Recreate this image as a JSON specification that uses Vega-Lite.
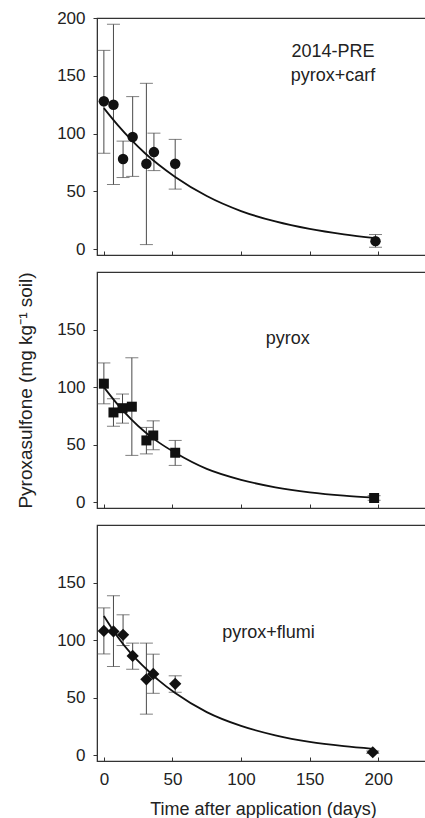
{
  "$schema": "https://vega.github.io/schema/vega-lite/v6.json",
  "padding": {"left": 16, "top": 8, "right": 0, "bottom": 0},
  "spacing": 13,
  "config": {
    "font": "Liberation Sans",
    "view": {"stroke": "#333", "strokeWidth": 1.2},
    "axis": {"grid": false, "domainColor": "#333", "tickColor": "#333", "labelColor": "#222", "titleColor": "#222", "labelFontSize": 17, "titleFontSize": 18, "titleFontWeight": "normal", "labelFont": "Liberation Sans", "titleFont": "Liberation Sans"},
    "text": {"font": "Liberation Sans"}
  },
  "datasets": {
    "carf_pts": [
      {"day": 0, "mean": 128, "lo": 83, "hi": 172},
      {"day": 7, "mean": 125, "lo": 56, "hi": 194.5},
      {"day": 14, "mean": 78, "lo": 62, "hi": 93.5},
      {"day": 21, "mean": 97, "lo": 63, "hi": 132},
      {"day": 31, "mean": 74, "lo": 4, "hi": 143.5},
      {"day": 36.5, "mean": 84, "lo": 68, "hi": 100.4},
      {"day": 52, "mean": 74, "lo": 52, "hi": 95},
      {"day": 198, "mean": 7, "lo": 1.7, "hi": 12.7}
    ],
    "carf_fit": [
      {"day": 0, "fit": 122}, {"day": 10, "fit": 107.5}, {"day": 20, "fit": 94.5}, {"day": 30, "fit": 83},
      {"day": 40, "fit": 73}, {"day": 52, "fit": 62.5}, {"day": 75, "fit": 46}, {"day": 100, "fit": 33},
      {"day": 125, "fit": 24}, {"day": 150, "fit": 17.5}, {"day": 175, "fit": 12.8}, {"day": 198, "fit": 9.5}
    ],
    "pyrox_pts": [
      {"day": 0, "mean": 103, "lo": 85.5, "hi": 121},
      {"day": 7, "mean": 78, "lo": 66, "hi": 90},
      {"day": 13.6, "mean": 81.7, "lo": 68.7, "hi": 94},
      {"day": 20.4, "mean": 83, "lo": 40.7, "hi": 125.5},
      {"day": 31, "mean": 53.7, "lo": 42, "hi": 65},
      {"day": 36, "mean": 58, "lo": 45.6, "hi": 70.7},
      {"day": 52, "mean": 43, "lo": 32, "hi": 53.7},
      {"day": 197, "mean": 3.7, "lo": 1.7, "hi": 5.7}
    ],
    "pyrox_fit": [
      {"day": 0, "fit": 100}, {"day": 10, "fit": 85}, {"day": 20, "fit": 72}, {"day": 30, "fit": 61},
      {"day": 40, "fit": 52}, {"day": 52, "fit": 43}, {"day": 75, "fit": 29}, {"day": 100, "fit": 19.5},
      {"day": 125, "fit": 13}, {"day": 150, "fit": 8.6}, {"day": 175, "fit": 5.7}, {"day": 197, "fit": 4}
    ],
    "flumi_pts": [
      {"day": 0, "mean": 108, "lo": 88, "hi": 128},
      {"day": 7, "mean": 107.5, "lo": 77, "hi": 138.6},
      {"day": 14, "mean": 104.6, "lo": 95.3, "hi": 122},
      {"day": 21, "mean": 86.3, "lo": 74.7, "hi": 97.4},
      {"day": 31, "mean": 66, "lo": 35.7, "hi": 97.4},
      {"day": 36, "mean": 70.6, "lo": 53.8, "hi": 87.8},
      {"day": 52, "mean": 62, "lo": 54.7, "hi": 69},
      {"day": 196, "mean": 2.6, "lo": 1.5, "hi": 3.7}
    ],
    "flumi_fit": [
      {"day": 0, "fit": 121}, {"day": 10, "fit": 103}, {"day": 20, "fit": 88}, {"day": 30, "fit": 76},
      {"day": 40, "fit": 65}, {"day": 52, "fit": 54}, {"day": 75, "fit": 37.5}, {"day": 100, "fit": 25.5},
      {"day": 125, "fit": 17.3}, {"day": 150, "fit": 11.6}, {"day": 175, "fit": 7.9}, {"day": 196, "fit": 5.6}
    ]
  },
  "vconcat": [
    {
      "width": 332, "height": 237,
      "layer": [
        {"data": {"name": "carf_pts"}, "mark": {"type": "rule", "color": "#4a4a4a", "strokeWidth": 1},
         "encoding": {"x": {"field": "day", "type": "quantitative", "scale": {"domain": [-5, 237], "nice": false, "zero": false},
           "axis": {"values": [0, 50, 100, 150, 200], "labels": false, "tickSize": -4, "title": null}},
           "y": {"field": "lo", "type": "quantitative", "scale": {"domain": [-5, 200], "nice": false, "zero": false},
           "axis": {"values": [0, 50, 100, 150, 200], "tickSize": 4, "labelPadding": 8, "title": null}},
           "y2": {"field": "hi"}}},
        {"data": {"name": "carf_pts"}, "mark": {"type": "tick", "orient": "horizontal", "size": 13, "thickness": 1, "color": "#4a4a4a"},
         "encoding": {"x": {"field": "day", "type": "quantitative"}, "y": {"field": "lo", "type": "quantitative"}}},
        {"data": {"name": "carf_pts"}, "mark": {"type": "tick", "orient": "horizontal", "size": 13, "thickness": 1, "color": "#4a4a4a"},
         "encoding": {"x": {"field": "day", "type": "quantitative"}, "y": {"field": "hi", "type": "quantitative"}}},
        {"data": {"name": "carf_fit"}, "mark": {"type": "line", "color": "#111", "strokeWidth": 1.8, "interpolate": "monotone"},
         "encoding": {"x": {"field": "day", "type": "quantitative"}, "y": {"field": "fit", "type": "quantitative"}}},
        {"data": {"name": "carf_pts"}, "mark": {"type": "point", "shape": "circle", "filled": true, "color": "#111", "opacity": 1, "size": 110},
         "encoding": {"x": {"field": "day", "type": "quantitative"}, "y": {"field": "mean", "type": "quantitative"}}},
        {"data": {"values": [{"label": "2014-PRE"}]}, "mark": {"type": "text", "fontSize": 18, "color": "#222", "baseline": "alphabetic", "align": "center"},
         "encoding": {"x": {"datum": 167}, "y": {"datum": 166}, "text": {"field": "label"}}},
        {"data": {"values": [{"label": "pyrox+carf"}]}, "mark": {"type": "text", "fontSize": 18, "color": "#222", "baseline": "alphabetic", "align": "center"},
         "encoding": {"x": {"datum": 167}, "y": {"datum": 145.5}, "text": {"field": "label"}}}
      ]
    },
    {
      "width": 332, "height": 236,
      "layer": [
        {"data": {"name": "pyrox_pts"}, "mark": {"type": "rule", "color": "#4a4a4a", "strokeWidth": 1},
         "encoding": {"x": {"field": "day", "type": "quantitative", "scale": {"domain": [-5, 237], "nice": false, "zero": false},
           "axis": {"values": [0, 50, 100, 150, 200], "labels": false, "tickSize": -4, "title": null}},
           "y": {"field": "lo", "type": "quantitative", "scale": {"domain": [-5, 200], "nice": false, "zero": false},
           "axis": {"values": [0, 50, 100, 150], "tickSize": 4, "labelPadding": 8, "title": "Pyroxasulfone (mg kg⁻¹ soil)", "titleFontSize": 19, "titlePadding": 21}},
           "y2": {"field": "hi"}}},
        {"data": {"name": "pyrox_pts"}, "mark": {"type": "tick", "orient": "horizontal", "size": 13, "thickness": 1, "color": "#4a4a4a"},
         "encoding": {"x": {"field": "day", "type": "quantitative"}, "y": {"field": "lo", "type": "quantitative"}}},
        {"data": {"name": "pyrox_pts"}, "mark": {"type": "tick", "orient": "horizontal", "size": 13, "thickness": 1, "color": "#4a4a4a"},
         "encoding": {"x": {"field": "day", "type": "quantitative"}, "y": {"field": "hi", "type": "quantitative"}}},
        {"data": {"name": "pyrox_fit"}, "mark": {"type": "line", "color": "#111", "strokeWidth": 1.8, "interpolate": "monotone"},
         "encoding": {"x": {"field": "day", "type": "quantitative"}, "y": {"field": "fit", "type": "quantitative"}}},
        {"data": {"name": "pyrox_pts"}, "mark": {"type": "point", "shape": "square", "filled": true, "color": "#111", "opacity": 1, "size": 100},
         "encoding": {"x": {"field": "day", "type": "quantitative"}, "y": {"field": "mean", "type": "quantitative"}}},
        {"data": {"values": [{"label": "pyrox"}]}, "mark": {"type": "text", "fontSize": 18, "color": "#222", "baseline": "alphabetic", "align": "center"},
         "encoding": {"x": {"datum": 134}, "y": {"datum": 137.7}, "text": {"field": "label"}}}
      ]
    },
    {
      "width": 332, "height": 236,
      "layer": [
        {"data": {"name": "flumi_pts"}, "mark": {"type": "rule", "color": "#4a4a4a", "strokeWidth": 1},
         "encoding": {"x": {"field": "day", "type": "quantitative", "scale": {"domain": [-5, 237], "nice": false, "zero": false},
           "axis": {"values": [0, 50, 100, 150, 200], "tickSize": -4, "labelPadding": 14, "title": "Time after application (days)", "titlePadding": 13}},
           "y": {"field": "lo", "type": "quantitative", "scale": {"domain": [-5, 200], "nice": false, "zero": false},
           "axis": {"values": [0, 50, 100, 150], "tickSize": 4, "labelPadding": 8, "title": null}},
           "y2": {"field": "hi"}}},
        {"data": {"name": "flumi_pts"}, "mark": {"type": "tick", "orient": "horizontal", "size": 13, "thickness": 1, "color": "#4a4a4a"},
         "encoding": {"x": {"field": "day", "type": "quantitative"}, "y": {"field": "lo", "type": "quantitative"}}},
        {"data": {"name": "flumi_pts"}, "mark": {"type": "tick", "orient": "horizontal", "size": 13, "thickness": 1, "color": "#4a4a4a"},
         "encoding": {"x": {"field": "day", "type": "quantitative"}, "y": {"field": "hi", "type": "quantitative"}}},
        {"data": {"name": "flumi_fit"}, "mark": {"type": "line", "color": "#111", "strokeWidth": 1.8, "interpolate": "monotone"},
         "encoding": {"x": {"field": "day", "type": "quantitative"}, "y": {"field": "fit", "type": "quantitative"}}},
        {"data": {"name": "flumi_pts"}, "mark": {"type": "point", "shape": "diamond", "filled": true, "color": "#111", "opacity": 1, "size": 150},
         "encoding": {"x": {"field": "day", "type": "quantitative"}, "y": {"field": "mean", "type": "quantitative"}}},
        {"data": {"values": [{"label": "pyrox+flumi"}]}, "mark": {"type": "text", "fontSize": 18, "color": "#222", "baseline": "alphabetic", "align": "center"},
         "encoding": {"x": {"datum": 120}, "y": {"datum": 102}, "text": {"field": "label"}}}
      ]
    }
  ]
}
